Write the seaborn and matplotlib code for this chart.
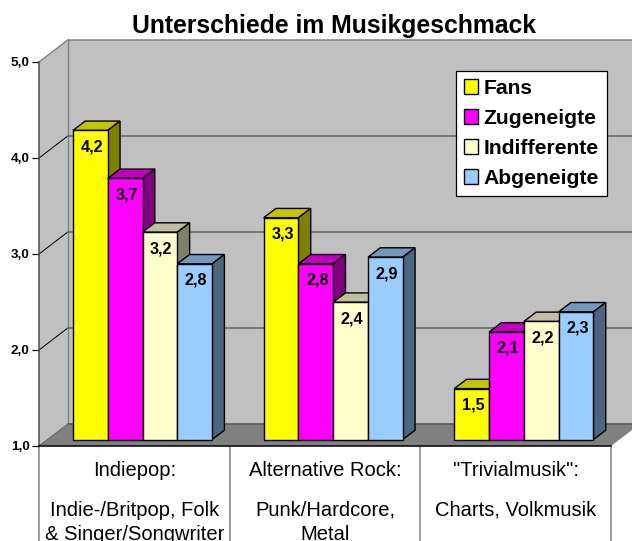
import pandas as pd
import matplotlib
matplotlib.use("Agg")
import matplotlib.pyplot as plt
import seaborn as sns
from matplotlib.patches import Polygon

# Werte
kategorien = ["Indiepop", "Alternative Rock", "Trivialmusik"]
fans = [4.22, 3.31, 1.53]
zugeneigte = [3.72, 2.83, 2.12]
indifferente = [3.16, 2.43, 2.23]
abgeneigte = [2.83, 2.90, 2.33]
gruppen = ["Fans", "Zugeneigte", "Indifferente", "Abgeneigte"]
farben = ["#FFFF00", "#FF00FF", "#FFFFCC", "#99CCFF"]
farben_oben = ["#C4C400", "#BF00BF", "#C0C0A0", "#7399BF"]
farben_seite = ["#808000", "#800080", "#808066", "#4D6680"]
y_ticks = [1, 2, 3, 4, 5]
x_beschriftung = [
    ["Indiepop:", "Indie-/Britpop, Folk", "& Singer/Songwriter"],
    ["Alternative Rock:", "Punk/Hardcore,", "Metal"],
    ['"Trivialmusik":', "Charts, Volkmusik"],
]

df = pd.DataFrame({
    "kategorie": kategorien * 4,
    "gruppe": [g for g in gruppen for _ in kategorien],
    "wert": fans + zugeneigte + indifferente + abgeneigte,
})

sns.set_style("white")
plt.rcParams["font.family"] = ["Liberation Sans", "DejaVu Sans"]
plt.rcParams["text.color"] = "black"
plt.rcParams["ytick.labelcolor"] = "black"

W, H = 632, 541
fig = plt.figure(figsize=(W / 100, H / 100), dpi=100)
ax = fig.add_axes([39 / W, (H - 446) / H, 572 / W, 384 / H])
ax.patch.set_visible(False)

sns.barplot(data=df, x="kategorie", y="wert", hue="gruppe", order=kategorien,
            hue_order=gruppen, palette=farben, saturation=1, width=0.73, gap=0,
            edgecolor="black", linewidth=1.0, errorbar=None, ax=ax)
ax.set_xlim(-0.5, 2.5)
ax.set_ylim(1, 5)
ax.set_xlabel("")
ax.set_ylabel("")

# Säulen merken, bevor weitere Flächen dazukommen
saeulen = []
for i, container in enumerate(ax.containers):
    for patch in container:
        saeulen.append((patch, i))
saeulen.sort(key=lambda s: s[0].get_x())

# Tiefe des Diagramms in Dateneinheiten
tief_x, tief_y = 29.5 / 190.67, 22.5 / 96
bar_x, bar_y = 8.2 / 190.67, 6.5 / 96
saeule_x, saeule_y = 12.3 / 190.67, 9.3 / 96

# Wände und Boden
links, rechts = -0.5, 2.5
ax.add_patch(Polygon([(links + tief_x, 1 + tief_y), (rechts + tief_x, 1 + tief_y),
                      (rechts + tief_x, 5 + tief_y), (links + tief_x, 5 + tief_y)],
                     fc="#C0C0C0", ec="none", clip_on=False, zorder=0.1))
ax.add_patch(Polygon([(links, 1), (links + tief_x, 1 + tief_y),
                      (links + tief_x, 5 + tief_y), (links, 5)],
                     fc="#C0C0C0", ec="none", clip_on=False, zorder=0.1))
ax.add_patch(Polygon([(links, 1), (rechts, 1), (rechts + tief_x, 1 + tief_y),
                      (links + tief_x, 1 + tief_y)],
                     fc="#808080", ec="none", clip_on=False, zorder=0.2))

for v in y_ticks[1:-1]:
    ax.plot([links, links + tief_x], [v, v + tief_y], color="black", lw=0.7,
            clip_on=False, zorder=0.3)
    ax.plot([links + tief_x, rechts + tief_x], [v + tief_y] * 2, color="#606060",
            lw=1.1, clip_on=False, zorder=0.3)
ax.plot([links + tief_x, rechts + tief_x], [1 + tief_y] * 2, color="#606060", lw=1.3,
        clip_on=False, zorder=0.3)
ax.plot([links, links + tief_x, links + tief_x], [5, 5 + tief_y, 1 + tief_y],
        color="#808080", lw=1.0, clip_on=False, zorder=0.3)
ax.plot([links + tief_x, rechts + tief_x], [5 + tief_y] * 2, color="#808080", lw=1.1,
        clip_on=False, zorder=0.3)
ax.plot([links, links + tief_x], [1, 1 + tief_y], color="#606060", lw=0.7,
        clip_on=False, zorder=0.3)

# Trennstriche unter der Achse
ax.vlines([links, 0.5, 1.5, rechts], 0, 1, color="#808080", lw=1.1, clip_on=False, zorder=0.4)

# Säulen auf die Mittelebene schieben, Deckel und Seite ergänzen
for n, (patch, i) in enumerate(saeulen):
    wert = patch.get_height()
    x0 = patch.get_x() + bar_x
    x1 = x0 + patch.get_width()
    y0 = 1 + bar_y
    y1 = wert + bar_y
    patch.set_x(x0)
    patch.set_y(y0)
    patch.set_height(wert - 1)
    z = 1 + n * 0.1
    patch.set_zorder(z + 0.02)
    patch.set_clip_on(False)
    ax.add_patch(Polygon([(x0, y1), (x1, y1), (x1 + saeule_x, y1 + saeule_y),
                          (x0 + saeule_x, y1 + saeule_y)], fc=farben_oben[i], ec="black",
                         lw=1.0, zorder=z, clip_on=False))
    ax.add_patch(Polygon([(x1, y0), (x1 + saeule_x, y0 + saeule_y),
                          (x1 + saeule_x, y1 + saeule_y), (x1, y1)], fc=farben_seite[i],
                         ec="black", lw=1.0, zorder=z, clip_on=False))
    ax.annotate(f"{wert:.1f}".replace(".", ","), ((x0 + x1) / 2, y1), xytext=(1.5, -16.5),
                textcoords="offset pixels", ha="center", va="center", fontsize=11.7,
                fontweight="bold", color="black", zorder=z + 0.05, annotation_clip=False)

# Achsen
for s in ["top", "right"]:
    ax.spines[s].set_visible(False)
ax.spines["left"].set_color("#505050")
ax.spines["left"].set_linewidth(1.1)
ax.spines["bottom"].set_color("black")
ax.spines["bottom"].set_linewidth(1.1)
ax.set_yticks(y_ticks)
ax.set_yticklabels([f"{v:.1f}".replace(".", ",") for v in y_ticks], fontsize=9.7,
                   fontweight="bold")
ax.tick_params(axis="y", left=True, length=5, width=0.9, color="black", pad=1.7)
ax.set_xticks([0, 1, 2])
ax.set_xticklabels([])
ax.tick_params(axis="x", bottom=False)

# Beschriftung unter der Achse
abstaende = [-24, -64, -88.5]
for i, zeilen in enumerate(x_beschriftung):
    for zeile, dy in zip(zeilen, abstaende):
        ax.annotate(zeile, (i, 1), xytext=(0, dy), textcoords="offset pixels",
                    ha="center", va="center", fontsize=14.5, color="black",
                    annotation_clip=False)

leg = ax.legend(loc="upper left", bbox_to_anchor=(456 / W, 1 - 71 / H),
                bbox_transform=fig.transFigure, borderaxespad=0, title=None,
                prop={"weight": "bold", "size": 15.2}, frameon=True, fancybox=False,
                framealpha=1, facecolor="white", edgecolor="black",
                handlelength=0.7, handleheight=0.7, handletextpad=0.25,
                labelspacing=0.53, borderpad=0.36)
leg.get_frame().set_linewidth(0.9)
leg.set_zorder(50)

fig.suptitle("Unterschiede im Musikgeschmack", x=333.5 / W, y=1 - 25.5 / H, va="center",
             fontsize=17.8, fontweight="bold", color="black")

fig.savefig("out.png", dpi=100)
